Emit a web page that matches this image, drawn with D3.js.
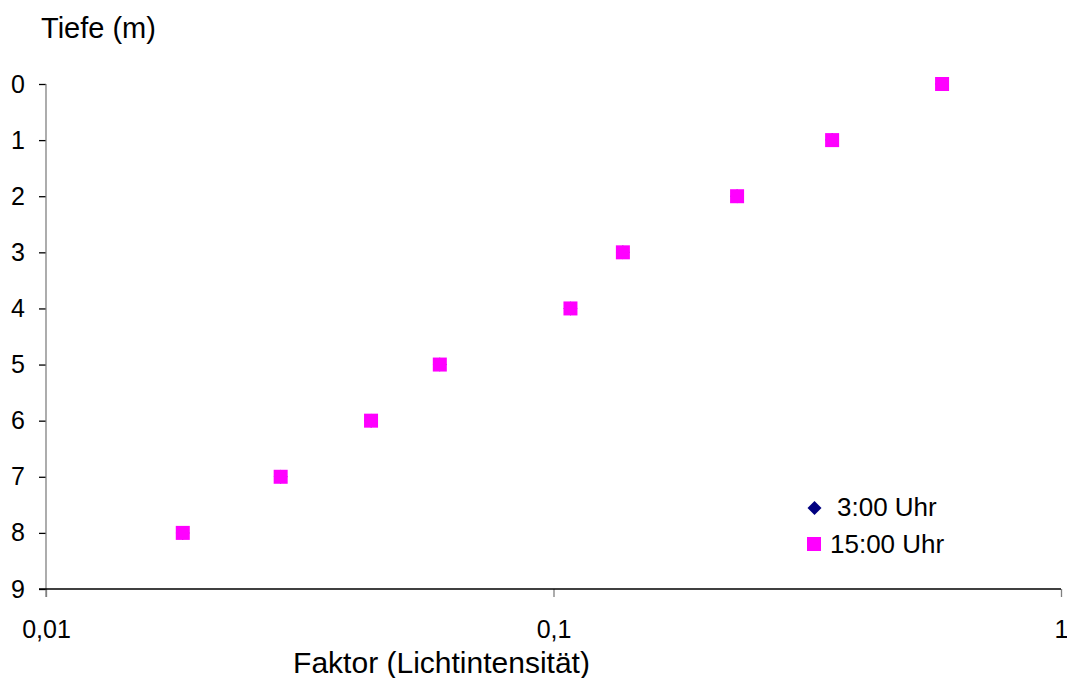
<!DOCTYPE html>
<html>
<head>
<meta charset="utf-8">
<script src="https://cdn.jsdelivr.net/npm/d3@7/dist/d3.min.js"></script>
<style>
  html, body { margin: 0; padding: 0; background: #fff; }
  svg { display: block; font-family: "Liberation Sans", Arial, sans-serif; }
</style>
</head>
<body>
<svg id="chart" width="1067" height="678"></svg>
<script>
// Depth (m) and relative light-intensity factor per depth
const depths = [0, 1, 2, 3, 4, 5, 6, 7, 8];
const factor0300 = [0.583, 0.354, 0.230, 0.137, 0.108, 0.0597, 0.0437, 0.0290, 0.0186];
const factor1500 = [0.583, 0.354, 0.230, 0.137, 0.108, 0.0597, 0.0437, 0.0290, 0.0186];
const seriesNames = ["3:00 Uhr", "15:00 Uhr"];
const xTickValues = [0.01, 0.1, 1];
const xTickLabels = ["0,01", "0,1", "1"];
const yTickValues = [0, 1, 2, 3, 4, 5, 6, 7, 8, 9];

const svg = d3.select("#chart");
const plot = { left: 46, right: 1061, top: 84, bottom: 589 };
const FONT = "Liberation Sans, Arial, sans-serif";

const x = d3.scaleLog().domain([0.01, 1]).range([plot.left, plot.right]);
const y = d3.scaleLinear().domain([0, 9]).range([plot.top, plot.bottom]);

// Square-on-corner diamond (equal width and height)
const rhombus = {
  draw(ctx, size) {
    const r = Math.sqrt(size / 2);
    ctx.moveTo(0, -r); ctx.lineTo(r, 0); ctx.lineTo(0, r); ctx.lineTo(-r, 0); ctx.closePath();
  }
};

// Y axis (grey line, black ticks)
const yAxis = svg.append("g").attr("transform", `translate(${plot.left},0)`)
  .call(d3.axisLeft(y).tickValues(yTickValues).tickSize(7).tickPadding(14).tickFormat(d3.format("d")));
yAxis.select(".domain").remove();
yAxis.selectAll(".tick line").attr("stroke", "#000").attr("stroke-width", 1.3);
yAxis.selectAll(".tick text").attr("font-size", 25).attr("fill", "#000").attr("font-family", FONT);
svg.append("line").attr("x1", plot.left).attr("x2", plot.left).attr("y1", plot.top).attr("y2", plot.bottom + 8)
  .attr("stroke", "#808080").attr("stroke-width", 1.3);

// X axis (black line, grey ticks)
const xAxis = svg.append("g").attr("transform", `translate(0,${plot.bottom})`)
  .call(d3.axisBottom(x).tickValues(xTickValues).tickSize(8).tickPadding(23)
    .tickFormat((d, i) => xTickLabels[i]));
xAxis.select(".domain").remove();
xAxis.selectAll(".tick line").attr("stroke", "#808080").attr("stroke-width", 1.3);
xAxis.selectAll(".tick text").attr("font-size", 25).attr("fill", "#000").attr("font-family", FONT);
svg.append("line").attr("x1", plot.left - 7).attr("x2", plot.right).attr("y1", plot.bottom).attr("y2", plot.bottom)
  .attr("stroke", "#000").attr("stroke-width", 1.3);

// Axis titles
svg.append("text").attr("x", 41).attr("y", 38).attr("font-size", 29).text("Tiefe (m)");
svg.append("text").attr("x", 441.5).attr("y", 673).attr("text-anchor", "middle")
  .attr("font-size", 30).text("Faktor (Lichtintensität)");

// 3:00 series (navy diamonds)
svg.append("g").selectAll("path").data(depths).join("path")
  .attr("transform", (d, i) => `translate(${x(factor0300[i])},${y(d)})`)
  .attr("d", d3.symbol(rhombus, 98)).attr("fill", "#000080");

// 15:00 series (magenta squares)
const sq = 14;
svg.append("g").selectAll("rect").data(depths).join("rect")
  .attr("x", (d, i) => x(factor1500[i]) - sq / 2)
  .attr("y", d => y(d) - sq / 2)
  .attr("width", sq).attr("height", sq).attr("fill", "#ff00ff");

// Legend
const lg = svg.append("g").attr("font-size", 26);
lg.append("path").attr("transform", "translate(814.5,508)")
  .attr("d", d3.symbol(rhombus, 98)).attr("fill", "#000080");
lg.append("text").attr("x", 837).attr("y", 516).text(seriesNames[0]);
lg.append("rect").attr("x", 807).attr("y", 537).attr("width", 14).attr("height", 14).attr("fill", "#ff00ff");
lg.append("text").attr("x", 830).attr("y", 553).text(seriesNames[1]);
</script>
</body>
</html>
